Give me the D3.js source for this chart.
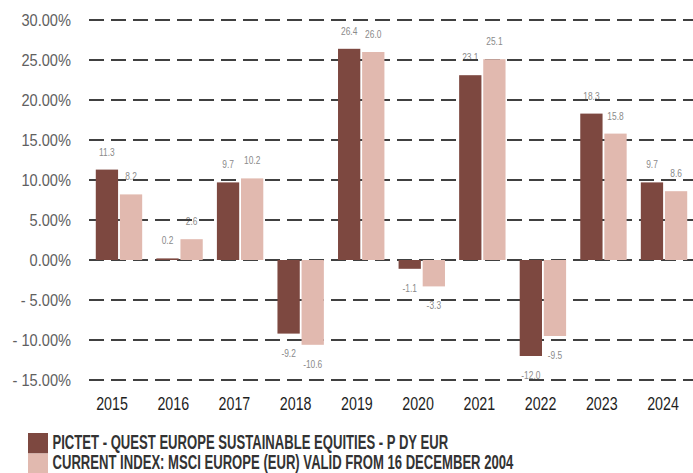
<!DOCTYPE html>
<html><head><meta charset="utf-8">
<script src="https://cdn.jsdelivr.net/npm/d3@7"></script>
<style>body{margin:0;background:#fff}svg{display:block}</style>
</head><body>
<script>
const years = ["2015","2016","2017","2018","2019","2020","2021","2022","2023","2024"];
const fundValues = [11.3, 0.2, 9.7, -9.2, 26.4, -1.1, 23.1, -12.0, 18.3, 9.7];
const indexValues = [8.2, 2.6, 10.2, -10.6, 26.0, -3.3, 25.1, -9.5, 15.8, 8.6];
const yTicks = [30, 25, 20, 15, 10, 5, 0, -5, -10, -15];
const seriesNames = ["PICTET - QUEST EUROPE SUSTAINABLE EQUITIES - P DY EUR",
                     "CURRENT INDEX: MSCI EUROPE (EUR) VALID FROM 16 DECEMBER 2004"];
const colors = ["#7d4840", "#e1b9af"];

const W = 693, H = 473;
const svg = d3.select("body").append("svg").attr("width", W).attr("height", H);
const font = "'Liberation Sans', Arial, sans-serif";

const y = d3.scaleLinear().domain([-15, 30]).range([380, 20]);
const x0 = d3.scaleBand().domain(years).range([88.7, 694.3]).paddingInner(0).paddingOuter(0);
const groupW = 46.4;
const x1 = d3.scaleBand().domain([0, 1]).range([0, groupW]).paddingInner(0.075).paddingOuter(0);
const xLab = d3.scalePoint().domain(years).range([112, 663]);

const series = [fundValues, indexValues];
const data = [];
years.forEach((yr, i) => series.forEach((s, k) => data.push({yr, k, v: s[i]})));
const barX = d => x0(d.yr) + (x0.step() - groupW) / 2 + x1(d.k);
const fmt1 = v => (v < 0 ? "-" : "") + Math.abs(v).toFixed(1);
const narrow = (x, yy, sx) => `translate(${x},${yy}) scale(${sx},1)`;

// value labels (beneath gridlines)
svg.append("g").selectAll("text").data(data).join("text")
  .attr("transform", d => narrow(barX(d) + x1.bandwidth() / 2,
                                 d.v >= 0 ? y(d.v) - 14 : y(d.v) + 23, 0.84))
  .attr("text-anchor", "middle")
  .attr("font-family", font).attr("font-size", 10).attr("fill", "#8a8a8a")
  .text(d => fmt1(d.v));

// gridlines
svg.append("g").selectAll("line").data(yTicks).join("line")
  .attr("x1", 89).attr("x2", W)
  .attr("y1", d => y(d)).attr("y2", d => y(d))
  .attr("stroke", "#404040").attr("stroke-width", 2.2)
  .attr("stroke-dasharray", "15 7");

// y labels
svg.append("g").selectAll("text").data(yTicks).join("text")
  .attr("transform", d => narrow(71, y(d) + 6, 0.86))
  .attr("text-anchor", "end")
  .attr("font-family", font).attr("font-size", 17).attr("fill", "#606060")
  .text(d => d >= 0 ? d.toFixed(2) + "%" : "- " + Math.abs(d).toFixed(2) + "%");

// bars
svg.append("g").selectAll("rect").data(data).join("rect")
  .attr("x", barX)
  .attr("width", x1.bandwidth())
  .attr("y", d => y(Math.max(0, d.v)))
  .attr("height", d => Math.max(1.5, Math.abs(y(d.v) - y(0))))
  .attr("fill", d => colors[d.k]);

// x labels
svg.append("g").selectAll("text").data(years).join("text")
  .attr("transform", d => narrow(xLab(d), 410, 0.77))
  .attr("text-anchor", "middle")
  .attr("font-family", font).attr("font-size", 18.5).attr("fill", "#1e1e1e")
  .text(d => d);

// legend
const leg = svg.append("g").selectAll("g").data(seriesNames).join("g")
  .attr("transform", (d, i) => `translate(28,${433 + i * 20.5})`);
leg.append("rect").attr("width", 20).attr("height", 20.5).attr("fill", (d, i) => colors[i]);
leg.append("text").attr("transform", narrow(24.5, 15.5, 0.655))
  .attr("font-family", font).attr("font-weight", "bold").attr("font-size", 20)
  .attr("fill", "#333").text(d => d);
</script>
</body></html>
